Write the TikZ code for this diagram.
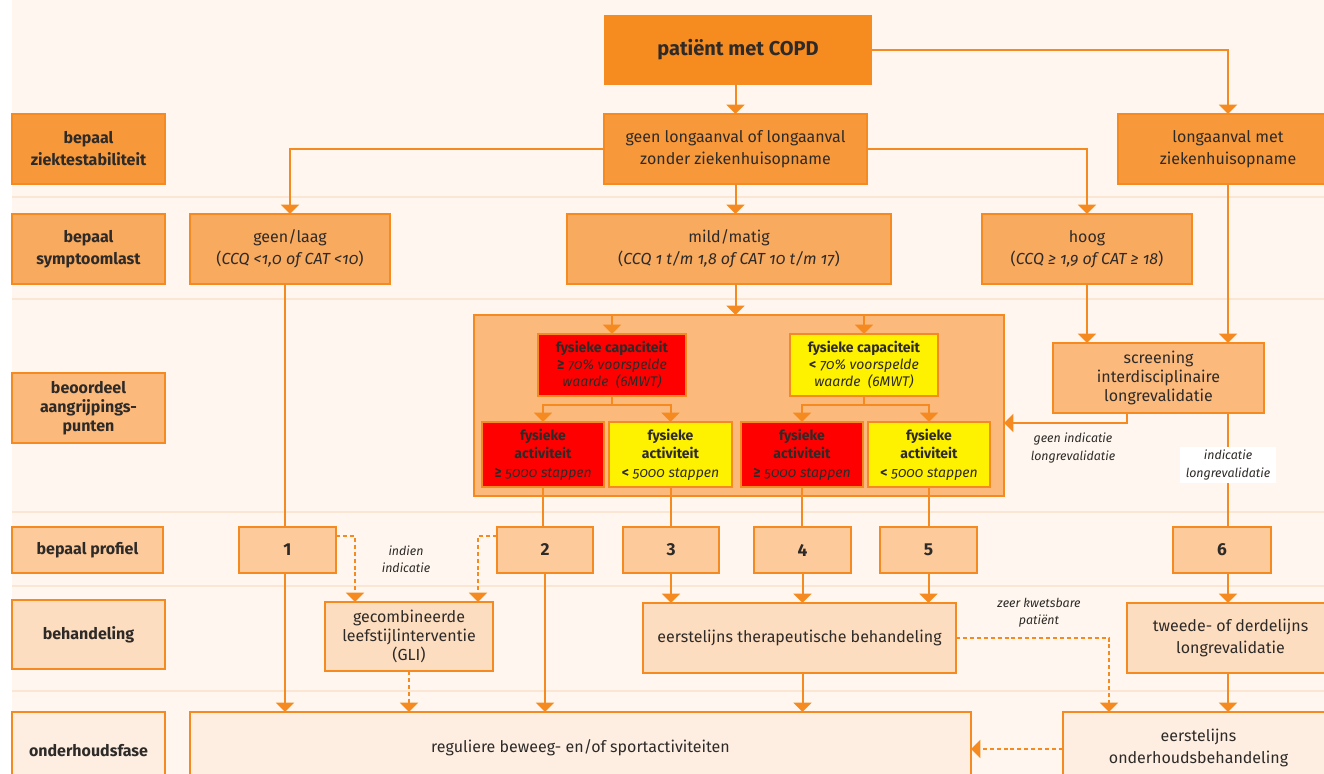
\documentclass[tikz,border=0pt]{standalone}
\usepackage{fontspec}
\setmainfont{Fira Sans}[ItalicFeatures={Numbers=OldStyle}]
\usetikzlibrary{arrows.meta}
\definecolor{bg}{HTML}{FEF6EF}
\definecolor{sep}{HTML}{FBE6D3}
\definecolor{ora}{HTML}{F58B20}
\definecolor{c0}{HTML}{F68B1F}
\definecolor{c1}{HTML}{F7993A}
\definecolor{c2}{HTML}{F8AA5E}
\definecolor{c3}{HTML}{FBB97C}
\definecolor{c4}{HTML}{FDCB9B}
\definecolor{c5}{HTML}{FDDDBF}
\definecolor{c6}{HTML}{FDEEE1}
\definecolor{txt}{HTML}{2E2A28}
\newcommand\bx[7]{\node[#6, minimum width={(#4-#2)*0.75pt}, minimum height={(#5-#3)*0.75pt}] (#1) at ({(#2+#4)/2},{(#3+#5)/2}) {#7};}
\tikzset{
  box/.style={draw=ora, line width=1.5pt, inner sep=2pt, outer sep=0pt, align=center, text=txt, font=\fontsize{12}{16.5}\selectfont},
  three/.style={font=\fontsize{12}{14.3}\selectfont},
  lab/.style={box, font=\fontsize{12}{16.5}\selectfont\bfseries},
  lab3/.style={box, font=\fontsize{12}{14.3}\selectfont\bfseries},
  b0/.style={box, fill=c0, draw=none, font=\fontsize{15}{18}\selectfont\bfseries},
  b1/.style={box, fill=c1},
  b2/.style={box, fill=c2},
  b3/.style={box, fill=c3},
  b4/.style={box, fill=c4, font=\fontsize{13}{16}\selectfont\bfseries},
  b5/.style={box, fill=c5},
  b6/.style={box, fill=c6},
  rb/.style={box, fill=red, font=\fontsize{10.5}{12.8}\selectfont},
  yb/.style={box, fill=yellow, font=\fontsize{10.5}{12.8}\selectfont},
  ra/.style={box, fill=red, font=\fontsize{10.5}{13.9}\selectfont},
  ya/.style={box, fill=yellow, font=\fontsize{10.5}{13.9}\selectfont},
  conn/.style={draw=ora, line width=1.5pt},
  arr/.style={conn, -{Triangle[width=13.5pt,length=7pt]}},
  darr/.style={draw=ora, line width=1.1pt, dash pattern=on 3pt off 2.2pt, -{Triangle[width=13.5pt,length=7pt]}},
  note/.style={text=txt, align=center, font=\fontsize{9.3}{13}\selectfont\itshape, inner sep=1pt}
}
\begin{document}
\begin{tikzpicture}[x=0.75pt,y=-0.75pt]
\useasboundingbox (0,0) rectangle (1324,774);
\fill[white] (0,0) rectangle (1324,774);
\fill[bg] (12,0) rectangle (1324,774);
\foreach \yy in {197,299,512,586,691} \draw[sep, line width=0.8pt] (12,\yy) -- (1324,\yy);

% left labels
\bx{L1}{12}{114}{165}{184}{lab, fill=c1}{bepaal\\ziektestabiliteit}
\bx{L2}{12}{214}{165}{284}{lab, fill=c2}{bepaal\\symptoomlast}
\bx{L3}{12}{373}{165}{443}{lab3, fill=c3}{beoordeel\\aangrijpings-\\punten}
\bx{L4}{12}{527}{163}{573}{lab, fill=c4}{bepaal profiel}
\bx{L5}{12}{600}{165}{669}{lab, fill=c5}{behandeling}
\bx{L6}{12}{712}{165}{790}{lab, fill=c6}{onderhoudsfase}

% main boxes
\bx{pat}{604}{15}{872}{85}{b0}{patiënt met COPD}
\bx{glz}{604}{114}{867}{184}{b1}{geen longaanval of longaanval\\zonder ziekenhuisopname}
\bx{lam}{1118}{114}{1338}{184}{b1}{longaanval met\\ziekenhuisopname}
\bx{gl}{190}{214}{390}{284}{b2}{geen/laag\\(\textit{CCQ <1,0 of CAT <10})}
\bx{mild}{567}{214}{891}{284}{b2}{mild/matig\\(\textit{CCQ 1 t/m 1,8 of CAT 10 t/m 17})}
\bx{hoog}{982}{214}{1192}{284}{b2}{hoog\\(\textit{CCQ ≥ 1,9 of CAT ≥ 18})}

\bx{cont}{474}{315}{1004}{496}{b3}{}
\bx{cap1}{538}{334}{686}{396}{rb}{\textbf{fysieke capaciteit}\\\textbf{≥} \textit{70\% voorspelde}\\\textit{waarde\ \ (6MWT)}}
\bx{cap2}{790}{334}{938}{396}{yb}{\textbf{fysieke capaciteit}\\\textbf{<} \textit{70\% voorspelde}\\\textit{waarde\ \ (6MWT)}}
\bx{a1}{482}{422}{604}{487}{ra}{\textbf{fysieke}\\\textbf{activiteit}\\\textbf{≥} \textit{5000 stappen}}
\bx{a2}{609}{422}{732}{487}{ya}{\textbf{fysieke}\\\textbf{activiteit}\\\textbf{<} \textit{5000 stappen}}
\bx{a3}{741}{422}{863}{487}{ra}{\textbf{fysieke}\\\textbf{activiteit}\\\textbf{≥} \textit{5000 stappen}}
\bx{a4}{868}{422}{990}{487}{ya}{\textbf{fysieke}\\\textbf{activiteit}\\\textbf{<} \textit{5000 stappen}}
\bx{scr}{1053}{343}{1264}{413}{b3, three}{screening\\interdisciplinaire\\longrevalidatie}

\bx{p1}{239}{527}{336}{573}{b4}{1}
\bx{p2}{497}{527}{593}{573}{b4}{2}
\bx{p3}{623}{527}{719}{573}{b4}{3}
\bx{p4}{754}{527}{851}{573}{b4}{4}
\bx{p5}{880}{527}{977}{573}{b4}{5}
\bx{p6}{1173}{527}{1271}{573}{b4}{6}

\bx{gli}{325}{602}{493}{671}{b5, three}{gecombineerde\\leefstijlinterventie\\(GLI)}
\bx{ther}{643}{603}{956}{673}{b5}{eerstelijns therapeutische behandeling}
\bx{tw}{1127}{603}{1334}{673}{b5}{tweede- of derdelijns\\longrevalidatie}

\bx{reg}{190}{712}{971}{784}{b6}{reguliere beweeg- en/of sportactiviteiten}
\bx{onh}{1063}{712}{1334}{784}{b6}{eerstelijns\\onderhoudsbehandeling}

% helper coordinates
\coordinate (k1) at (1127,423);
\coordinate (d1) at (355,536);
\coordinate (d2) at (478,536);
\coordinate (d3) at (1109,638);
\coordinate (d4) at (1063,749);
\coordinate (x1) at (285,0);

% connectors top
\draw[arr] (pat.south -| glz.south) -- (glz.north);
\draw[arr] (pat.east) -| (lam.north);
\draw[arr] (glz.west) -| (gl.north);
\draw[arr] (glz.east) -| (hoog.north);
\draw[arr] (glz.south) -- (glz.south |- mild.north);
\draw[arr] (glz.south |- mild.south) -- (glz.south |- cont.north);
\draw[arr] (hoog.south) -- (hoog.south |- scr.north);
\draw[arr] (lam.south) -- (lam.south |- scr.north);
\draw[conn] (gl.south -| x1) -- (p1.north -| x1);

% inside container
\draw[arr] (cont.north -| cap1.north) -- (cap1.north);
\draw[arr] (cont.north -| cap2.north) -- (cap2.north);
\draw[arr] (cap1.south) -- ++(0,9) -| (a1.north);
\draw[arr] (cap1.south) -- ++(0,9) -| (a2.north);
\draw[arr] (cap2.south) -- ++(0,9) -| (a3.north);
\draw[arr] (cap2.south) -- ++(0,9) -| (a4.north);

% screening
\draw[arr] (scr.south -| k1) |- (cont.east |- k1);
\node[note] (gi) at (1073,448) {geen indicatie\\longrevalidatie};
\draw[conn] (scr.south -| lam.south) -- (p6.north -| lam.south);
\node[note, fill=white, inner xsep=4pt, inner ysep=2pt] (ind) at (1228,465) {indicatie\\longrevalidatie};

% activities to profiles
\draw[conn] (a1.south) -- (a1.south |- p2.north);
\draw[conn] (a2.south) -- (a2.south |- p3.north);
\draw[conn] (a3.south) -- (a3.south |- p4.north);
\draw[conn] (a4.south) -- (a4.south |- p5.north);

% profiles down
\draw[arr] (p1.south -| x1) -- (reg.north -| x1);
\draw[darr] (p1.east |- d1) -| (gli.north -| d1);
\draw[darr] (p2.west |- d2) -| (gli.north -| d2);
\node[note] (ii) at (406,559) {indien\\indicatie};
\draw[darr] (gli.south) -- (gli.south |- reg.north);
\draw[arr] (p2.south) -- (p2.south |- reg.north);
\draw[arr] (p3.south) -- (p3.south |- ther.north);
\draw[arr] (p4.south) -- (p4.south |- ther.north);
\draw[arr] (p5.south) -- (p5.south |- ther.north);
\draw[arr] (ther.south -| p4.south) -- (p4.south |- reg.north);
\draw[darr] (ther.east) -| (onh.north -| d3);
\node[note] (zk) at (1039,613) {zeer kwetsbare\\patiënt};
\draw[arr] (p6.south -| lam.south) -- (tw.north -| lam.south);
\draw[arr] (tw.south -| lam.south) -- (onh.north -| lam.south);
\draw[darr] (onh.west |- d4) -- (reg.east |- d4);
\end{tikzpicture}
\end{document}
